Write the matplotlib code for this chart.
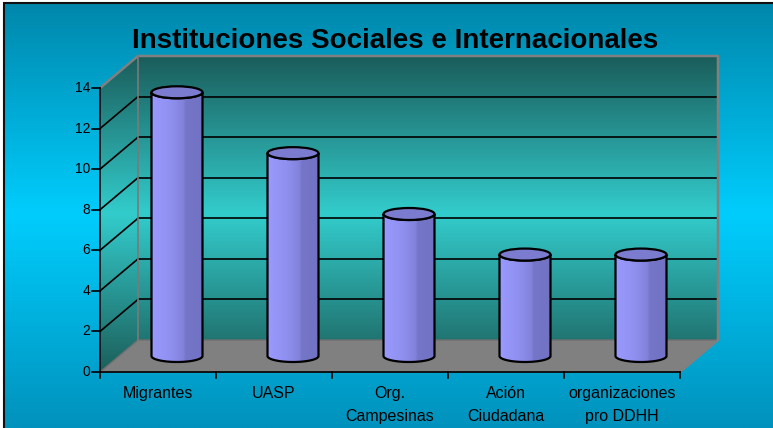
import numpy as np
import matplotlib.pyplot as plt
from matplotlib.colors import LinearSegmentedColormap
from matplotlib.patches import Polygon, Ellipse, Rectangle

# data
categories = ["Migrantes", "UASP", "Org.\nCampesinas", "Ación\nCiudadana", "organizaciones\npro DDHH"]
values = [13, 10, 7, 5, 5]
yticks = [0, 2, 4, 6, 8, 10, 12, 14]
title = "Instituciones Sociales e Internacionales"

W, H = 773, 428
fig = plt.figure(figsize=(W / 100, H / 100), dpi=100)
fig.patch.set_facecolor("white")
ax = fig.add_axes([0, 0, 1, 1])

# pixel layout of the 3D box: category width and unit height in px
x0px, cw = 100, 116
y0px, uh = 372, 20.286
ax.set_xlim(-x0px / cw, (W - x0px) / cw)
ax.set_ylim(-(H - y0px) / uh, y0px / uh)
ax.axis("off")
xl, yl = ax.get_xlim(), ax.get_ylim()

n = len(categories)
ymax = yticks[-1]
dx, dy = 38 / cw, 32 / uh  # depth offset

plt.rcParams["font.family"] = ["Liberation Sans", "DejaVu Sans"]


def gradient(extent, cmap, clip, horizontal=False, z=1):
    g = np.linspace(0, 1, 256)
    g = g[None, :] if horizontal else g[:, None]
    im = ax.imshow(g, extent=extent, origin="lower", aspect="auto", cmap=cmap,
                   zorder=z, interpolation="bilinear")
    if clip is not None:
        im.set_clip_path(clip)
    return im


# chart area background
bg = LinearSegmentedColormap.from_list("bg", [(0, "#0092bc"), (0.5, "#00cdfd"), (1, "#0086aa")])
gradient([xl[0], xl[1], yl[0], yl[1]], bg, None, z=0)
ax.add_patch(Rectangle((xl[0] + 4 / cw, yl[0] - 1), 20, yl[1] - yl[0] - 3 / uh + 1,
                       fill=False, ec="#111111", lw=1.5, zorder=0.5))
ax.add_patch(Rectangle((xl[0], yl[1] - 3 / uh), 20, 5, fc="white", ec="none", zorder=0.4))
ax.add_patch(Rectangle((xl[0] - 1, yl[0] - 1), 1 + 4 / cw, 30, fc="white", ec="none", zorder=0.4))

# walls
wall = LinearSegmentedColormap.from_list("wall", [(0, "#1c5f5b"), (0.5, "#33cccc"), (1, "#1a5c5a")])
back = Polygon([(dx, dy), (n + dx, dy), (n + dx, ymax + dy), (dx, ymax + dy)],
               closed=True, transform=ax.transData)
side = Polygon([(0, 0), (dx, dy), (dx, ymax + dy), (0, ymax)], closed=True, transform=ax.transData)
gradient([0, n + dx, 0, ymax + dy], wall, back)
gradient([0, n + dx, 0, ymax + dy], wall, side)

floor = Polygon([(0, 0), (n, 0), (n + dx, dy), (dx, dy)], closed=True, fc="#808080",
                ec="#6f6f6f", lw=1, zorder=1.5)
ax.add_patch(floor)

# gridlines
for v in yticks[1:-1]:
    ax.plot([dx, n + dx], [v + dy, v + dy], color="black", lw=1.2, zorder=2)
    ax.plot([0, dx], [v, v + dy], color="black", lw=1.2, zorder=2)

edge = dict(color="#808080", lw=1.8, zorder=2.2, solid_capstyle="butt")
ax.plot([0, dx, n + dx, n + dx, n], [ymax, ymax + dy, ymax + dy, dy, 0], **edge)
ax.plot([dx, dx], [dy, ymax + dy], color="#7a7a7a", lw=1.2, zorder=2.2)

# axes lines and ticks
ax.plot([0, 0], [0, ymax], color="black", lw=1.2, zorder=3)
ax.plot([0, n], [0, 0], color="black", lw=1.2, zorder=3)
for v in yticks:
    ax.plot([-8 / cw, 0], [v, v], color="black", lw=1.2, zorder=3)
    ax.text(-10 / cw, v, str(v), ha="right", va="center", fontsize=10, color="black")
for i in range(n + 1):
    ax.plot([i, i], [0, -6 / uh], color="black", lw=1.2, zorder=3)
for i, lab in enumerate(categories):
    for k, line in enumerate(lab.split("\n")):
        ax.text(i + 0.5, -(26 + 23 * k) / uh, line, ha="center", va="baseline",
                fontsize=11.5, color="black")

ax.text(395 / cw - x0px / cw, (y0px - 48) / uh, title, ha="center", va="baseline",
        fontsize=20, fontweight="bold", color="black")

# cylinders
body = LinearSegmentedColormap.from_list("cyl", [(0, "#9a9aff"), (0.35, "#9090f0"),
                                                (0.62, "#8282dc"), (0.66, "#7676c8"),
                                                (1, "#7272c4")])
w = 51 / cw
eh = 12 / uh
base = dy / 2
t = np.linspace(np.pi, 2 * np.pi, 40)
for i, v in enumerate(values):
    cx = i + 0.5 + dx / 2
    top = v + base
    lower_bot = [(cx + w / 2 * np.cos(a), base + eh / 2 * np.sin(a)) for a in t]
    lower_top = [(cx + w / 2 * np.cos(a), top + eh / 2 * np.sin(a)) for a in t[::-1]]
    pts = [(cx - w / 2, top)] + lower_bot + [(cx + w / 2, top)] + lower_top
    poly = Polygon(pts, closed=True, transform=ax.transData)
    gradient([cx - w / 2, cx + w / 2, base - eh, top + eh], body, poly, horizontal=True, z=4)
    ax.add_patch(Polygon(pts, closed=True, fill=False, ec="black", lw=1.6, zorder=4.2))
    ax.add_patch(Ellipse((cx, top), w, eh, fc="#7b7bcf", ec="black", lw=1.6, zorder=4.3))

fig.savefig("out.png", dpi=100)
